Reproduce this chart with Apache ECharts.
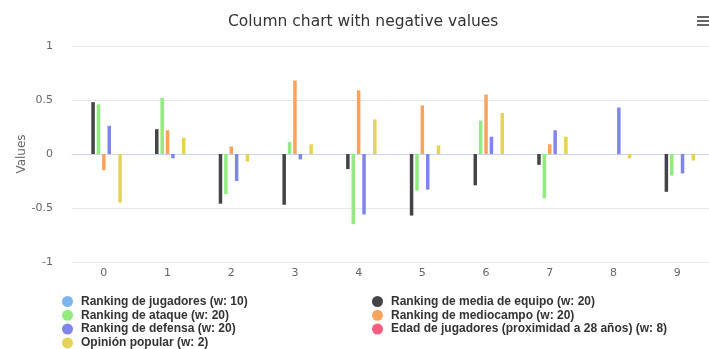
<!DOCTYPE html>
<html>
<head>
<meta charset="utf-8">
<script src="https://cdn.jsdelivr.net/npm/echarts@6/dist/echarts.min.js"></script>
<style>html,body{margin:0;padding:0;background:#fff;}#c{width:709px;height:349px;}</style>
</head>
<body>
<div id="c"></div>
<script>
var categories = ['0','1','2','3','4','5','6','7','8','9'];
var seriesNames = [
  'Ranking de jugadores (w: 10)',
  'Ranking de media de equipo (w: 20)',
  'Ranking de ataque (w: 20)',
  'Ranking de mediocampo (w: 20)',
  'Ranking de defensa (w: 20)',
  'Edad de jugadores (proximidad a 28 años) (w: 8)',
  'Opinión popular (w: 2)'
];
var jugadores  = [0, 0, 0, 0, 0, 0, 0, 0, 0, 0];
var mediaEquipo = [0.48, 0.23, -0.46, -0.47, -0.14, -0.57, -0.29, -0.10, 0, -0.35];
var ataque     = [0.46, 0.52, -0.37, 0.11, -0.65, -0.34, 0.31, -0.41, 0, -0.20];
var mediocampo = [-0.15, 0.22, 0.07, 0.68, 0.59, 0.45, 0.55, 0.09, 0, 0];
var defensa    = [0.26, -0.04, -0.25, -0.05, -0.56, -0.33, 0.16, 0.22, 0.43, -0.18];
var edad       = [0, 0, 0, 0, 0, 0, 0, 0, 0, 0];
var opinion    = [-0.45, 0.15, -0.07, 0.09, 0.32, 0.08, 0.38, 0.16, -0.04, -0.06];
var yTicks = [-1, -0.5, 0, 0.5, 1];

var colors = ['#7cb5ec','#434348','#90ed7d','#f7a35c','#8085e9','#f15c80','#e4d354'];
var allData = [jugadores, mediaEquipo, ataque, mediocampo, defensa, edad, opinion];
var FONT = '"Lucida Grande","Lucida Sans Unicode","DejaVu Sans",Arial,sans-serif';
var LFONT = '"Liberation Sans",Arial,Helvetica,sans-serif';

var series = seriesNames.map(function(n, i){
  return {
    name: n, type: 'bar', data: allData[i],
    barWidth: 3.5, barGap: '54%',
    itemStyle: {color: colors[i]}
  };
});

var legendText = {fontFamily: LFONT, fontSize: 12, fontWeight: 'bold', color: '#333', lineHeight: 13, padding: [0,0,0,3]};
var chart = echarts.init(document.getElementById('c'), null, {renderer: 'canvas'});
chart.setOption({
  animation: false,
  color: colors,
  title: {
    text: 'Column chart with negative values',
    left: 223, top: 9,
    textStyle: {fontFamily: FONT, fontSize: 15.5, fontWeight: 'normal', color: '#333'}
  },
  grid: {left: 72, right: 0, top: 46, bottom: 87, containLabel: false},
  legend: [
    {
      orient: 'vertical', left: 62, top: 295, height: 80, padding: 0,
      icon: 'circle', itemWidth: 11, itemHeight: 11, itemGap: 0.8,
      data: [seriesNames[0], seriesNames[2], seriesNames[4], seriesNames[6]],
      textStyle: legendText
    },
    {
      orient: 'vertical', left: 372, top: 295, height: 80, padding: 0,
      icon: 'circle', itemWidth: 11, itemHeight: 11, itemGap: 0.8,
      data: [seriesNames[1], seriesNames[3], seriesNames[5]],
      textStyle: legendText
    }
  ],
  xAxis: {
    type: 'category', data: categories,
    axisLine: {lineStyle: {color: '#ccd6eb'}},
    axisTick: {alignWithLabel: true, length: 10, lineStyle: {color: '#ccd6eb'}},
    axisLabel: {fontFamily: FONT, fontSize: 11, color: '#666', margin: 6},
    splitLine: {show: false}
  },
  yAxis: {
    type: 'value', min: yTicks[0], max: yTicks[yTicks.length-1], interval: 0.5,
    name: 'Values', nameLocation: 'middle', nameGap: 44, nameRotate: 90,
    nameMoveOverlap: false,
    nameTextStyle: {fontFamily: FONT, fontSize: 12, color: '#666'},
    axisLine: {show: false}, axisTick: {show: false},
    axisLabel: {fontFamily: FONT, fontSize: 11, color: '#666', margin: 19},
    splitLine: {lineStyle: {color: '#e6e6e6'}}
  },
  graphic: [
    {type: 'rect', shape: {x: 697, y: 16, width: 12, height: 2}, style: {fill: '#666'}},
    {type: 'rect', shape: {x: 697, y: 20, width: 12, height: 2}, style: {fill: '#666'}},
    {type: 'rect', shape: {x: 697, y: 24, width: 12, height: 2}, style: {fill: '#666'}}
  ],
  series: series
});
</script>
</body>
</html>
